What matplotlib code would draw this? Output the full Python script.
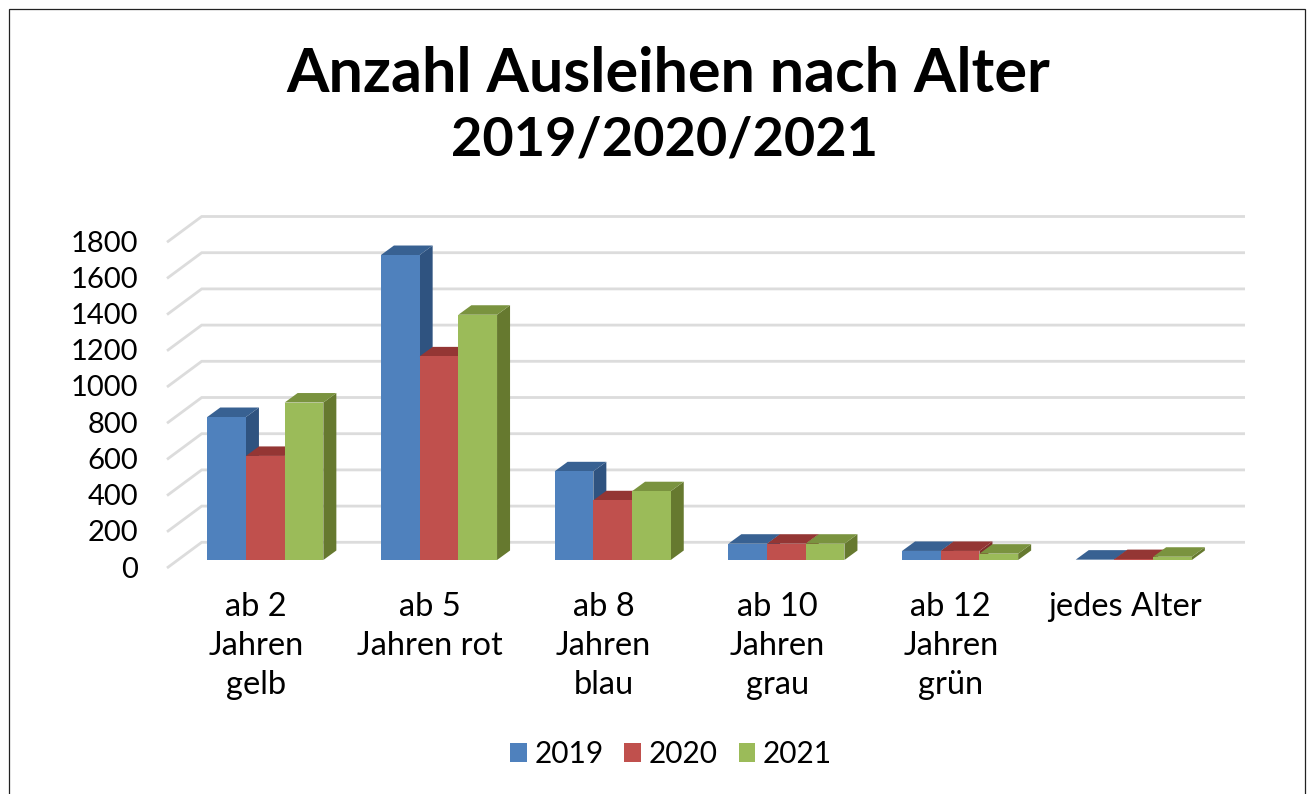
import matplotlib
matplotlib.use('Agg')
import matplotlib.pyplot as plt
import matplotlib.transforms as mtrans
from matplotlib.patches import Rectangle
import numpy as np

# data
categories = ['ab 2\nJahren\ngelb', 'ab 5\nJahren rot', 'ab 8\nJahren\nblau',
              'ab 10\nJahren\ngrau', 'ab 12\nJahren\ngrün', 'jedes Alter']
years = ['2019', '2020', '2021']
v2019 = [790, 1685, 490, 90, 50, 2]
v2020 = [575, 1125, 330, 90, 50, 5]
v2021 = [870, 1355, 380, 90, 35, 18]
y_ticks = [0, 200, 400, 600, 800, 1000, 1200, 1400, 1600, 1800]

front_cols = ['#4F81BD', '#C0504D', '#9BBB59']
top_cols = ['#386192', '#943634', '#7A933F']
side_cols = ['#2F5380', '#7F2D2B', '#66792F']

W, H = 1315, 794
px_cat = 173.7      # pixels per category
px_val = 0.181      # pixels per unit of value
left, right, top, bottom = 167, 1245, 215, 570

plt.rcParams['font.family'] = ['Lato', 'DejaVu Sans']
fig = plt.figure(figsize=(W/100, H/100), dpi=100, facecolor='white')
ax = fig.add_axes([left/W, 1-bottom/H, (right-left)/W, (bottom-top)/H])
ax.set_xlim((left-256)/px_cat, (right-256)/px_cat)
ax.set_ylim((560-bottom)/px_val, (560-top)/px_val)
for s in ax.spines.values():
    s.set_visible(False)
ax.patch.set_visible(False)

# depth of the fake 3D, in data units
dx = 13/px_cat
dy = 9.5/px_val
bar_w = 38.7/px_cat
shift = 9.3/px_cat

# wall and side gridlines
for v in y_ticks:
    yf = v - 8/px_val
    yb = v + 17.7/px_val
    xb = (201.7-256)/px_cat
    ax.plot([ax.get_xlim()[0], xb, ax.get_xlim()[1]], [yf, yb, yb], color='#DCDCDC', lw=2.0,
            solid_joinstyle='miter', solid_capstyle='butt', clip_on=False, zorder=1)

# bars, back to front
for i in range(len(categories)):
    for j, vals in enumerate([v2019, v2020, v2021]):
        x0 = i - 1.5*bar_w + j*bar_w + shift
        x1 = x0 + bar_w
        v = vals[i]
        z = 2 + j
        ax.fill([x1, x1+dx, x1+dx, x1], [0, dy, v+dy, v], color=side_cols[j], lw=0, zorder=z)
        ax.fill([x0, x0+dx, x1+dx, x1], [v, v+dy, v+dy, v], color=top_cols[j], lw=0, zorder=z)
        ax.bar(x0, v, bar_w, align='edge', color=front_cols[j], lw=0, zorder=z)

# ticks
ax.set_yticks(y_ticks)
ax.set_xticks(range(len(categories)))
ax.set_xticklabels(categories, linespacing=1.36)
ax.tick_params(axis='both', length=0, labelcolor='black')
ax.tick_params(axis='y', pad=21, labelsize=21)
ax.tick_params(axis='x', pad=16, labelsize=23.5)
off = mtrans.ScaledTranslation(0, -7/100, fig.dpi_scale_trans)
for lab in ax.get_yticklabels():
    lab.set_transform(lab.get_transform() + off)

# title
fig.text(668/W, 1-74/H, 'Anzahl Ausleihen nach Alter', ha='center', va='center',
         fontsize=44, fontweight='bold')
fig.text(664/W, 1-140/H, '2019/2020/2021', ha='center', va='center',
         fontsize=39, fontweight='bold')

# legend
handles = [Rectangle((0, 0), 1, 1, color=c, lw=0) for c in front_cols]
fig.legend(handles, years, ncol=3, frameon=False, fontsize=21.5, loc='center',
           bbox_to_anchor=(671/W, 1-754/H), handlelength=0.56, handleheight=0.56,
           handletextpad=0.25, columnspacing=0.7)

# chart frame
fig.add_artist(Rectangle((9/W, -0.01), (1305-9)/W, 1-9/H+0.01, transform=fig.transFigure,
                         fill=False, ec='#222222', lw=0.9))

fig.savefig('out.png', dpi=100)
